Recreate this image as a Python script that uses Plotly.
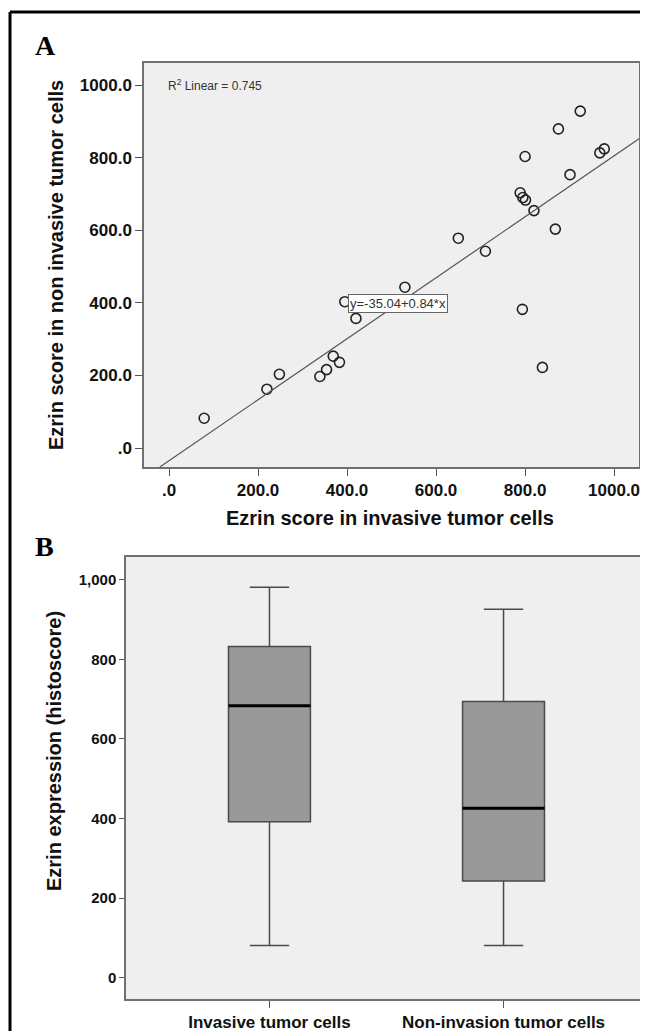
import plotly.graph_objects as go

PAGE_W, PAGE_H = 648, 1031
OFF = 8  # default page margin of the html body
W, H = PAGE_W - OFF, PAGE_H - OFF

# ---------------- data ----------------
# Panel A: scatter
invasive_score = [79, 220, 248, 339, 354, 369, 383, 395, 420, 530, 650, 711,
                  789, 795, 801, 794, 820, 839, 868, 875, 800, 901, 924, 968, 978]
noninvasive_score = [82, 162, 203, 197, 216, 253, 236, 403, 357, 443, 578, 542,
                     703, 690, 683, 382, 654, 222, 603, 879, 803, 753, 928, 813, 824]
fit_intercept = -35.04
fit_slope = 0.84
r2_linear = 0.745
a_ticks = [0, 200, 400, 600, 800, 1000]
a_ticktext = [".0", "200.0", "400.0", "600.0", "800.0", "1000.0"]

# Panel B: box plot summary statistics
categories = ["Invasive tumor cells", "Non-invasion tumor cells"]
box_min = [81, 81]
box_q1 = [392, 243]
box_median = [683, 426]
box_q3 = [832, 694]
box_max = [981, 926]
b_ticks = [0, 200, 400, 600, 800, 1000]
b_ticktext = ["0", "200", "400", "600", "800", "1,000"]

# ---------------- helpers (page pixels -> paper fractions) ----------------
def px_x(p):
    return (p - OFF) / W

def px_y(p):
    return 1 - (p - OFF) / H

FONT = "Liberation Sans, Arial, sans-serif"
SERIF = "Liberation Serif, Times New Roman, serif"

fig = go.Figure()

# ---------------- Panel A ----------------
a_xrange = [-56.2, 1056]
a_yrange = [-52.3, 1060.6]

fig.add_trace(go.Scatter(
    x=invasive_score, y=noninvasive_score, mode="markers",
    marker=dict(symbol="circle-open", size=10, color="#222222",
                line=dict(width=1.6, color="#222222")),
    xaxis="x", yaxis="y", showlegend=False, hoverinfo="skip"))

x_lo = (a_yrange[0] - fit_intercept) / fit_slope
x_hi = a_xrange[1]
fig.add_trace(go.Scatter(
    x=[x_lo, x_hi],
    y=[fit_intercept + fit_slope * x_lo, fit_intercept + fit_slope * x_hi],
    mode="lines", line=dict(color="#555555", width=1.2),
    xaxis="x", yaxis="y", showlegend=False, hoverinfo="skip"))

# ---------------- Panel B ----------------
box_w = 0.35
for i, cat in enumerate(categories):
    fig.add_trace(go.Box(
        x=[i], q1=[box_q1[i]], median=[box_median[i]], q3=[box_q3[i]],
        lowerfence=[box_min[i]], upperfence=[box_max[i]],
        width=box_w, whiskerwidth=0.48,
        fillcolor="#999999", line=dict(color="#4a4a4a", width=1.5),
        xaxis="x2", yaxis="y2", showlegend=False, hoverinfo="skip",
        boxpoints=False))
    fig.add_trace(go.Scatter(
        x=[i - box_w / 2, i + box_w / 2], y=[box_median[i], box_median[i]],
        mode="lines", line=dict(color="#000000", width=3),
        xaxis="x2", yaxis="y2", showlegend=False, hoverinfo="skip"))

axis_common = dict(showgrid=False, zeroline=False, showline=True, mirror=True,
                   linecolor="#707070", linewidth=1.5, ticks="outside",
                   tickcolor="#555555", tickwidth=1.2)

fig.update_layout(
    width=W, height=H,
    margin=dict(l=0, r=0, t=0, b=0),
    paper_bgcolor="white", plot_bgcolor="#EFEFEF",
    font=dict(family=FONT, color="#111111"),
    xaxis=dict(domain=[px_x(144), px_x(639)], range=a_xrange,
               tickvals=a_ticks, ticktext=a_ticktext, ticklen=7,
               tickfont=dict(size=17, weight="bold", color="#111111"),
               anchor="y", **axis_common),
    yaxis=dict(domain=[px_y(467), px_y(63)], range=a_yrange,
               tickvals=a_ticks, ticktext=a_ticktext, ticklen=7,
               tickfont=dict(size=17, weight="bold", color="#111111"),
               anchor="x", **axis_common),
    xaxis2=dict(domain=[px_x(126), px_x(647)], range=[-0.613, 1.613],
                tickvals=list(range(len(categories))), ticktext=categories,
                ticklen=7,
                tickfont=dict(size=17, weight="bold", color="#111111"),
                anchor="y2", **axis_common),
    yaxis2=dict(domain=[px_y(999), px_y(557)], range=[-53.5, 1057],
                tickvals=b_ticks, ticktext=b_ticktext, ticklen=5,
                tickfont=dict(size=15, weight="bold", color="#111111"),
                anchor="x2", **axis_common),
)

annotations = [
    dict(text="A", x=px_x(33), y=px_y(46), xref="paper", yref="paper",
         xanchor="left", yanchor="middle", showarrow=False,
         font=dict(family=SERIF, size=28, weight="bold", color="#000000")),
    dict(text="B", x=px_x(33), y=px_y(546), xref="paper", yref="paper",
         xanchor="left", yanchor="middle", showarrow=False,
         font=dict(family=SERIF, size=28, weight="bold", color="#000000")),
    dict(text="R<sup>2</sup> Linear = %.3f" % r2_linear,
         x=px_x(166), y=px_y(85), xref="paper", yref="paper",
         xanchor="left", yanchor="middle", showarrow=False,
         font=dict(size=12, color="#333333")),
    dict(text="y=%.2f+%.2f*x" % (fit_intercept, fit_slope),
         x=514.6, y=399.4, xref="x", yref="y",
         xanchor="center", yanchor="middle", showarrow=False,
         bgcolor="white", bordercolor="#666666", borderwidth=1, borderpad=1,
         font=dict(size=13, color="#333333")),
    dict(text="Ezrin score in non invasive tumor cells",
         x=px_x(56), y=px_y(265), xref="paper", yref="paper",
         xanchor="center", yanchor="middle", textangle=-90, showarrow=False,
         font=dict(size=20, weight="bold", color="#111111")),
    dict(text="Ezrin score in invasive tumor cells",
         x=px_x(390), y=px_y(518), xref="paper", yref="paper",
         xanchor="center", yanchor="middle", showarrow=False,
         font=dict(size=20, weight="bold", color="#111111")),
    dict(text="Ezrin expression (histoscore)",
         x=px_x(54), y=px_y(751), xref="paper", yref="paper",
         xanchor="center", yanchor="middle", textangle=-90, showarrow=False,
         font=dict(size=20, weight="bold", color="#111111")),
]
fig.update_layout(annotations=annotations)

# outer frame (top and left edges)
fig.add_shape(type="line", xref="paper", yref="paper",
              x0=px_x(10), y0=px_y(12), x1=1, y1=px_y(12),
              line=dict(color="black", width=3))
fig.add_shape(type="line", xref="paper", yref="paper",
              x0=px_x(10), y0=px_y(12), x1=px_x(10), y1=0,
              line=dict(color="black", width=3))

fig.write_html("out.html")
